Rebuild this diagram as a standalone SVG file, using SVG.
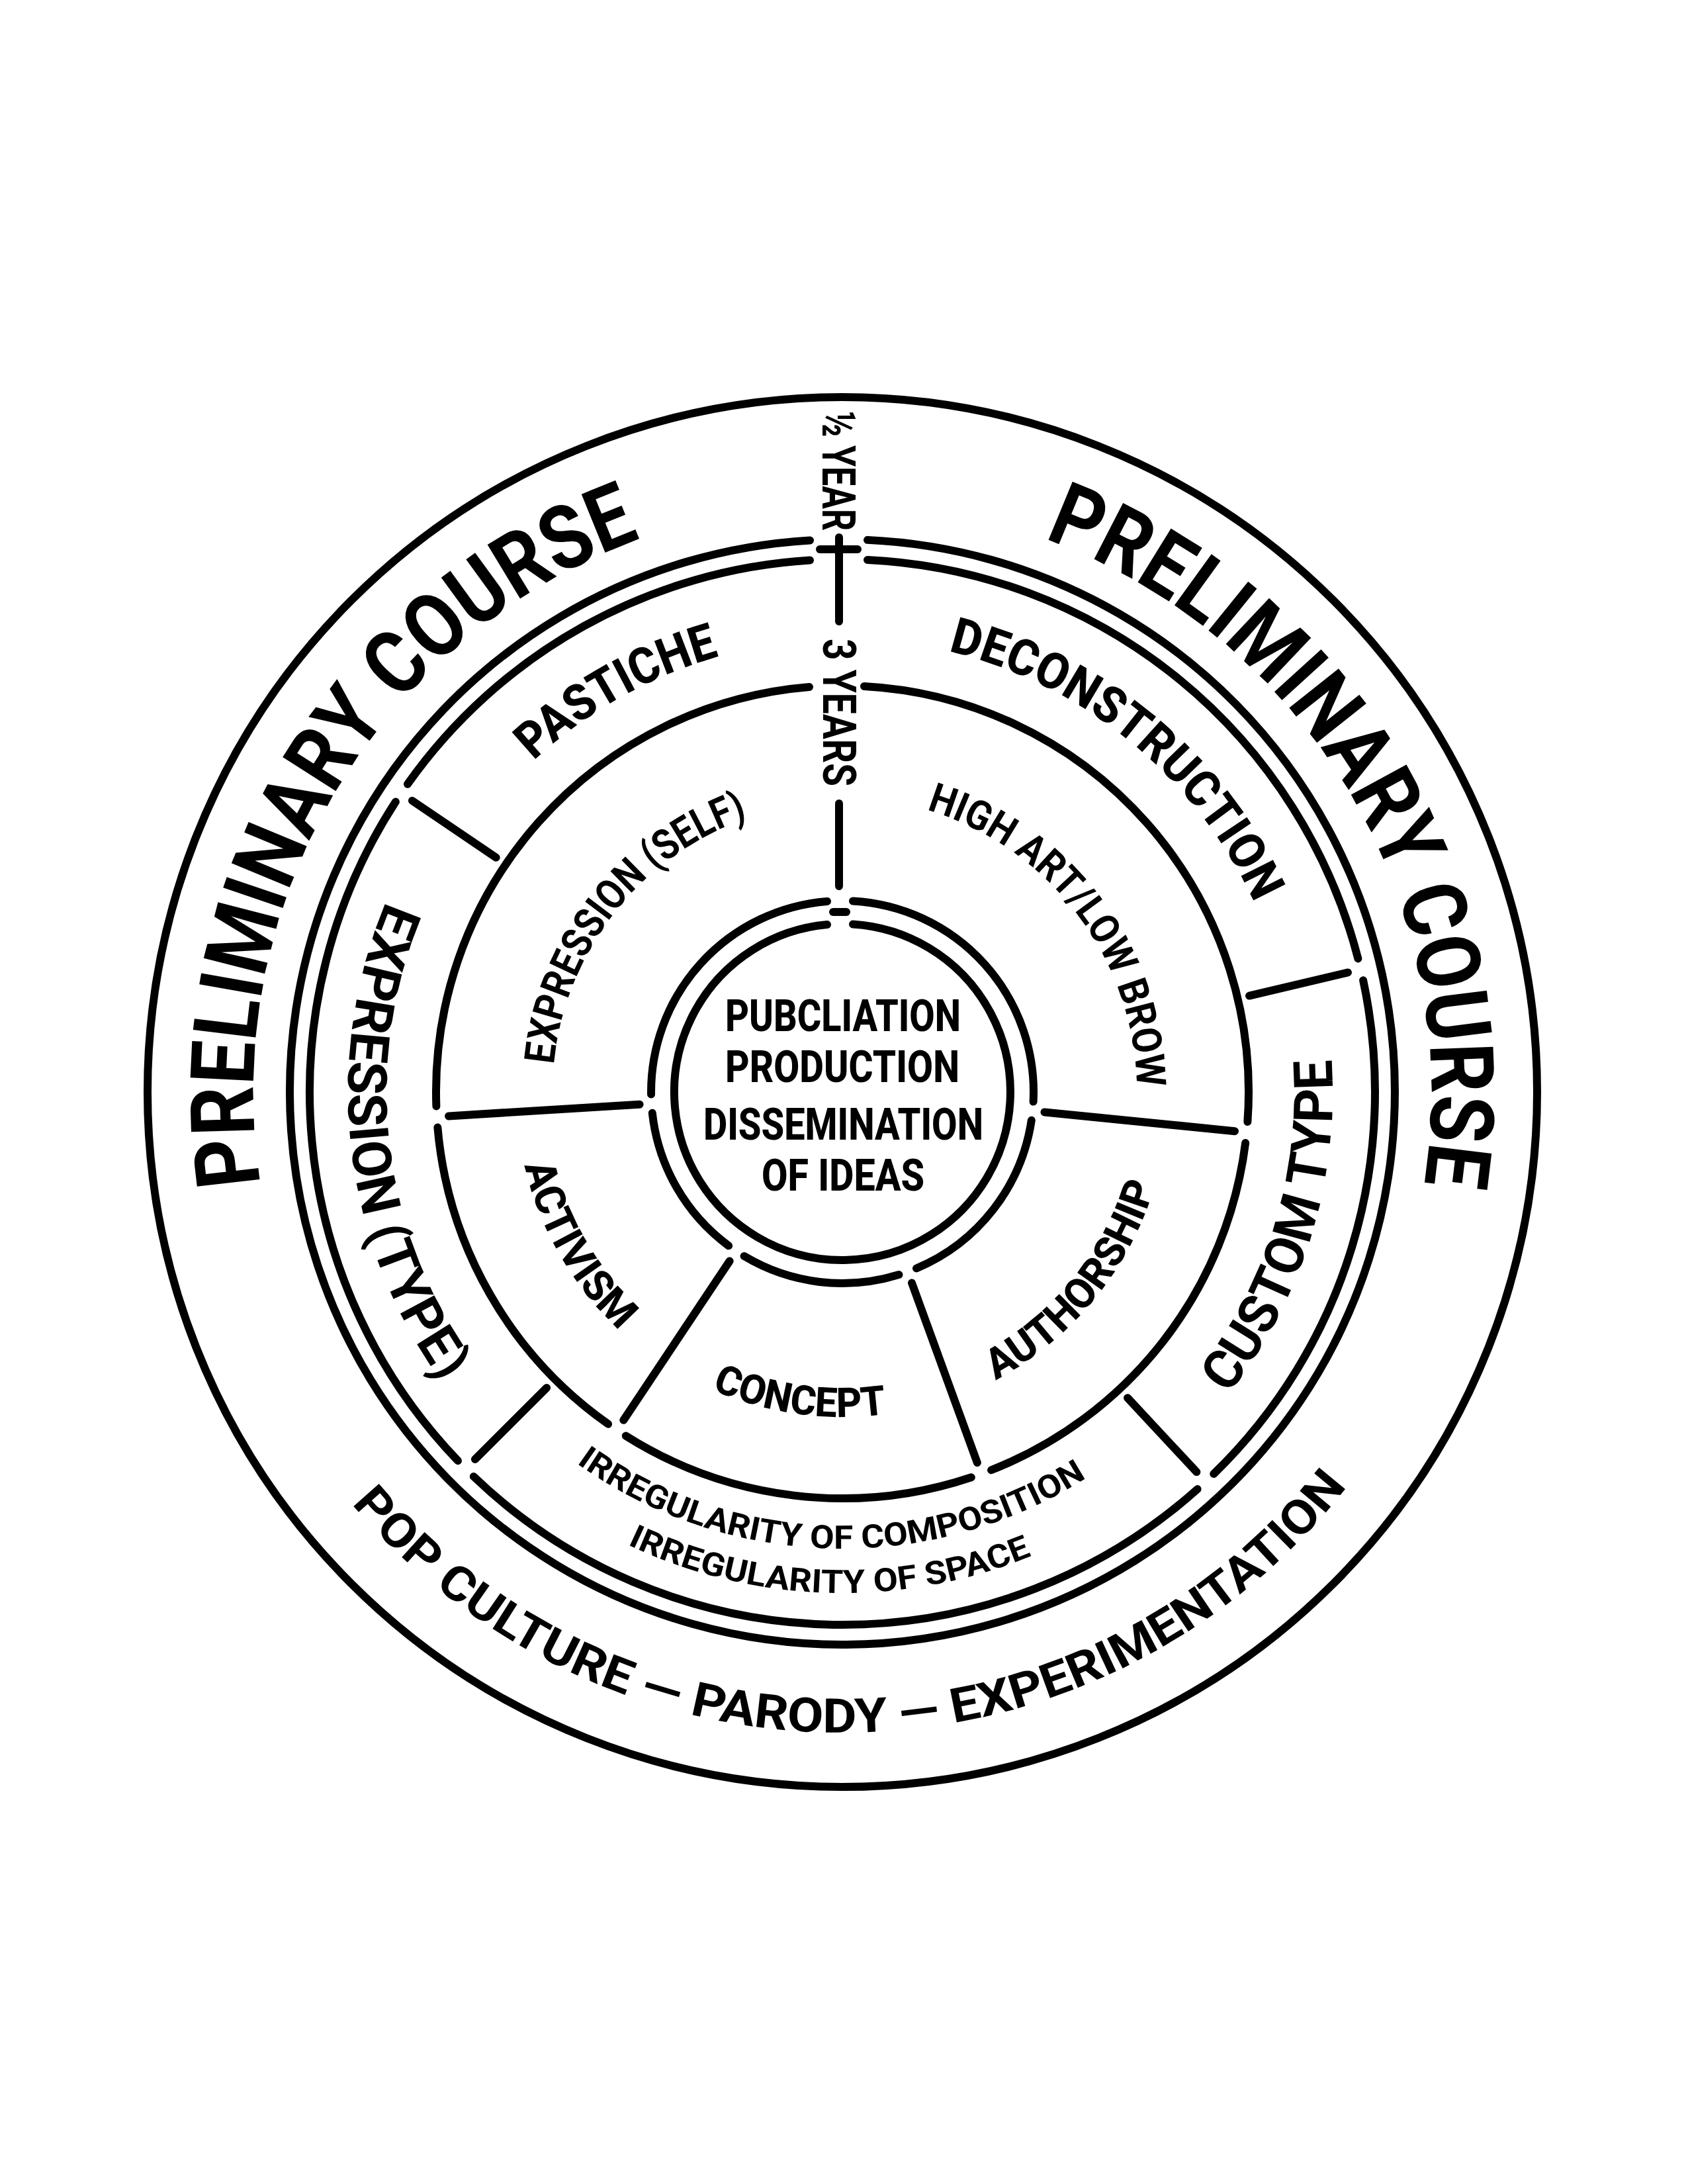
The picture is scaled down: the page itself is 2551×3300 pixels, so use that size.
<svg xmlns="http://www.w3.org/2000/svg" width="2551" height="3300" viewBox="0 0 2551 3300">
<style>
.ln{fill:none;stroke:#000;stroke-width:12;stroke-linecap:round}
.t{font-family:Roboto,"Liberation Sans",sans-serif;fill:#000}
.b{font-weight:800}
.m{font-weight:700}
</style>
<defs>
<path id="pL" d="M 393.96 1789.23 A 890 890 0 0 1 968.60 813.67"/>
<path id="pR" d="M 1577.40 813.67 A 890 890 0 0 1 2152.04 1789.23"/>
<path id="pPas" d="M 806.51 1149.76 A 684 684 0 0 1 1086.76 991.84"/>
<path id="pDec" d="M 1432.91 983.93 A 685 685 0 0 1 1895.83 1364.85"/>
<path id="pSelf" d="M 836.94 1608.78 A 438 438 0 0 1 1130.40 1235.86"/>
<path id="pHigh" d="M 1400.13 1223.55 A 445 445 0 0 1 1717.95 1643.01"/>
<path id="pAct" d="M 792.64 1760.90 A 493 493 0 0 0 936.77 2010.56"/>
<path id="pCon" d="M 1075.64 2099.59 A 491 491 0 0 0 1339.64 2136.46"/>
<path id="pAuth" d="M 1504.45 2085.29 A 493 493 0 0 0 1745.45 1790.85"/>
<path id="pExT" d="M 583.87 1361.73 A 747 747 0 0 0 668.66 2089.08"/>
<path id="pCus" d="M 1856.12 2107.23 A 741 741 0 0 0 2012.37 1600.89"/>
<path id="pIrC" d="M 871.34 2211.02 A 690 690 0 0 0 1641.70 2233.23"/>
<path id="pIrS" d="M 948.29 2333.83 A 757 757 0 0 0 1559.02 2350.88"/>
<path id="pPop" d="M 531.47 2272.22 A 968 968 0 0 0 2035.80 2245.96"/>
</defs>
<rect width="2551" height="3300" fill="#fff"/>

<g id="rings">
<circle id="ring-outer" class="ln" cx="1273" cy="1650" r="1050"/>
<path id="ring-1" class="ln" d="M 1311 815.87 A 835 835 0 1 1 1224 816.44"/>
<g id="ring-2">
<path class="ln" d="M 1311 845.89 A 805 805 0 0 1 2052.36 1448.44"/>
<path class="ln" d="M 2060.11 1481.26 A 805 805 0 0 1 1834.22 2227.11"/>
<path class="ln" d="M 1809.56 2250.11 A 805 805 0 0 1 715.83 2231.02"/>
<path class="ln" d="M 691.98 2207.17 A 805 805 0 0 1 597.87 1211.56"/>
<path class="ln" d="M 616.00 1184.82 A 805 805 0 0 1 1224 846.51"/>
</g>
<g id="ring-3">
<path class="ln" d="M 1306 1036.89 A 614 614 0 0 1 1885.35 1694.97"/>
<path class="ln" d="M 1882.16 1726.95 A 614 614 0 0 1 1498.03 2221.28"/>
<path class="ln" d="M 1467.82 2232.27 A 614 614 0 0 1 945.81 2169.56"/>
<path class="ln" d="M 919.07 2151.72 A 614 614 0 0 1 661.34 1703.52"/>
<path class="ln" d="M 659.37 1671.43 A 614 614 0 0 1 1223 1038.04"/>
</g>
<g id="ring-4">
<path class="ln" d="M 1289 1361.44 A 289 289 0 0 1 1561.63 1664.62"/>
<path class="ln" d="M 1558.83 1692.72 A 289 289 0 0 1 1384.99 1916.42"/>
<path class="ln" d="M 1358.46 1926.08 A 289 289 0 0 1 1124.57 1897.97"/>
<path class="ln" d="M 1101.10 1882.32 A 289 289 0 0 1 985.75 1681.71"/>
<path class="ln" d="M 984.02 1653.53 A 289 289 0 0 1 1250 1361.92"/>
</g>
<path id="ring-5" class="ln" d="M 1289 1396.51 A 254 254 0 1 1 1250 1397.04"/>
</g>

<g id="connectors">
<line class="ln" x1="1239" y1="830" x2="1296" y2="830"/>
<line class="ln" x1="1259" y1="1378" x2="1279" y2="1378"/>
<line class="ln" x1="1268" y1="812" x2="1268" y2="939"/>
<line class="ln" x1="1268" y1="1214" x2="1268" y2="1339"/>
<line class="ln" x1="1578.48" y1="1680.49" x2="1866.06" y2="1709.19"/>
<line class="ln" x1="1378.00" y1="1938.48" x2="1476.84" y2="2210.06"/>
<line class="ln" x1="1102.66" y1="1905.41" x2="942.32" y2="2145.84"/>
<line class="ln" x1="966.57" y1="1668.74" x2="678.11" y2="1686.39"/>
<line class="ln" x1="1888.05" y1="1504.61" x2="2036.95" y2="1469.41"/>
<line class="ln" x1="1704.02" y1="2112.21" x2="1808.37" y2="2224.11"/>
<line class="ln" x1="826.11" y1="2096.89" x2="717.92" y2="2205.08"/>
<line class="ln" x1="749.67" y1="1295.68" x2="622.97" y2="1209.90"/>
</g>

<g id="labels">
<g id="preliminary-left"><text class="t m" font-size="134"><textPath href="#pL" textLength="1227" lengthAdjust="spacingAndGlyphs">PRELIMINARY COURSE</textPath></text></g>
<g id="preliminary-right"><text class="t m" font-size="134"><textPath href="#pR" textLength="1227" lengthAdjust="spacingAndGlyphs">PRELIMINARY COURSE</textPath></text></g>
<g id="half-year"><text class="t m" font-size="70" transform="translate(1243 621) rotate(90)" textLength="181" lengthAdjust="spacingAndGlyphs">½ YEAR</text></g>
<g id="three-years"><text class="t m" font-size="71" transform="translate(1244 965) rotate(90)" textLength="223" lengthAdjust="spacingAndGlyphs">3 YEARS</text></g>
<g id="pastiche"><text class="t b" font-size="76"><textPath href="#pPas" textLength="325" lengthAdjust="spacingAndGlyphs">PASTICHE</textPath></text></g>
<g id="deconstruction"><text class="t b" font-size="76"><textPath href="#pDec" textLength="620" lengthAdjust="spacingAndGlyphs">DECONSTRUCTION</textPath></text></g>
<g id="expression-self"><text class="t m" font-size="64"><textPath href="#pSelf" textLength="501" lengthAdjust="spacingAndGlyphs">EXPRESSION (SELF)</textPath></text></g>
<g id="high-art"><text class="t m" font-size="62"><textPath href="#pHigh" textLength="563" lengthAdjust="spacingAndGlyphs">HIGH ART/LOW BROW</textPath></text></g>
<g id="activism"><text class="t b" font-size="64"><textPath href="#pAct" textLength="292" lengthAdjust="spacingAndGlyphs">ACTIVISM</textPath></text></g>
<g id="concept"><text class="t b" font-size="62"><textPath href="#pCon" textLength="270" lengthAdjust="spacingAndGlyphs">CONCEPT</textPath></text></g>
<g id="authorship"><text class="t b" font-size="64"><textPath href="#pAuth" textLength="390" lengthAdjust="spacingAndGlyphs">AUTHORSHIP</textPath></text></g>
<g id="expression-type"><text class="t m" font-size="82"><textPath href="#pExT" textLength="765" lengthAdjust="spacingAndGlyphs">EXPRESSION (TYPE)</textPath></text></g>
<g id="custom-type"><text class="t m" font-size="82"><textPath href="#pCus" textLength="542" lengthAdjust="spacingAndGlyphs">CUSTOM TYPE</textPath></text></g>
<g id="irregularity"><text class="t m" font-size="49"><textPath href="#pIrC" textLength="818" lengthAdjust="spacingAndGlyphs">IRREGULARITY OF COMPOSITION</textPath></text>
<text class="t m" font-size="49"><textPath href="#pIrS" textLength="629" lengthAdjust="spacingAndGlyphs">IRREGULARITY OF SPACE</textPath></text></g>
<g id="pop-culture"><text class="t m" font-size="72"><textPath href="#pPop" textLength="1723" lengthAdjust="spacingAndGlyphs">POP CULTURE — PARODY — EXPERIMENTATION</textPath></text></g>
<g id="center">
<text class="t b" font-size="67" x="1096" y="1558" textLength="356" lengthAdjust="spacingAndGlyphs">PUBCLIATION</text>
<text class="t b" font-size="67" x="1096" y="1635" textLength="354" lengthAdjust="spacingAndGlyphs">PRODUCTION</text>
<text class="t b" font-size="67" x="1063" y="1722" textLength="423" lengthAdjust="spacingAndGlyphs">DISSEMINATION</text>
<text class="t b" font-size="67" x="1151" y="1799" textLength="246" lengthAdjust="spacingAndGlyphs">OF IDEAS</text>
</g>
</g>
</svg>
